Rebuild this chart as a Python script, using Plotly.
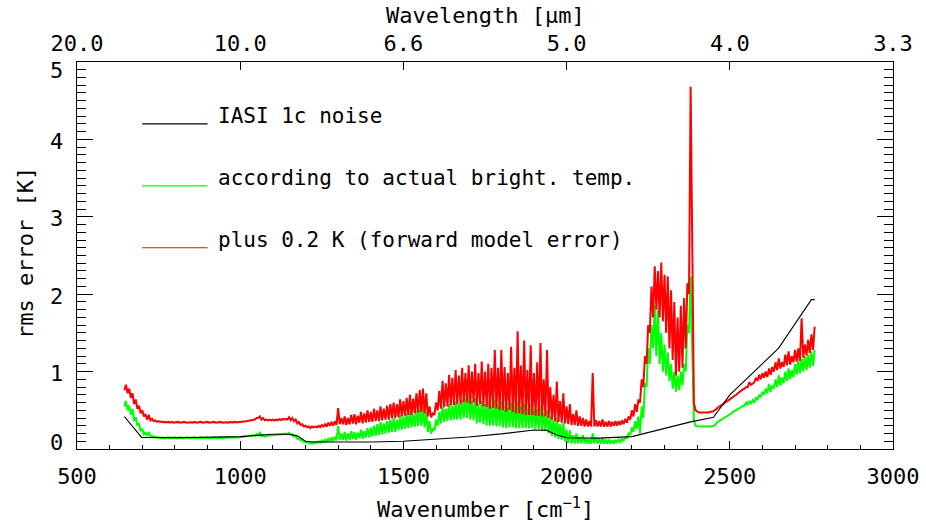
import plotly.graph_objects as go

# ---------------- data ----------------
wn_start, wn_stop, wn_step = 645, 2760, 5
wavenumber = list(range(wn_start, wn_stop + 1, wn_step))

green_values = [
    0.55, 0.62, 0.50, 0.56, 0.44, 0.52, 0.36, 0.41, 0.30, 0.33, 0.23, 0.26, 0.19, 0.21, 0.17, 0.22, 0.16, 0.17, 0.15, 0.16,
    0.145, 0.15, 0.14, 0.15, 0.14, 0.145, 0.14, 0.15, 0.14, 0.145, 0.14, 0.15, 0.14, 0.145, 0.14, 0.15, 0.14, 0.145, 0.14, 0.15,
    0.14, 0.145, 0.14, 0.15, 0.14, 0.145, 0.14, 0.15, 0.14, 0.145, 0.14, 0.15, 0.14, 0.145, 0.14, 0.15, 0.14, 0.145, 0.14, 0.15,
    0.14, 0.145, 0.14, 0.15, 0.145, 0.15, 0.145, 0.15, 0.145, 0.15, 0.15, 0.155, 0.155, 0.16, 0.16, 0.165, 0.165, 0.17, 0.17, 0.18,
    0.17, 0.19, 0.18, 0.21, 0.17, 0.18, 0.16, 0.17, 0.17, 0.175, 0.175, 0.18, 0.18, 0.185, 0.185, 0.19, 0.19, 0.195, 0.19, 0.20,
    0.19, 0.21, 0.18, 0.19, 0.16, 0.17, 0.13, 0.14, 0.11, 0.12, 0.09, 0.10, 0.08, 0.09, 0.07, 0.09, 0.07, 0.09, 0.08, 0.10,
    0.08, 0.11, 0.09, 0.12, 0.09, 0.14, 0.10, 0.15, 0.10, 0.16, 0.11, 0.30, 0.12, 0.20, 0.12, 0.22, 0.11, 0.20, 0.12, 0.23,
    0.13, 0.22, 0.12, 0.21, 0.14, 0.25, 0.13, 0.23, 0.15, 0.27, 0.15, 0.28, 0.16, 0.30, 0.17, 0.32, 0.18, 0.35, 0.19, 0.33,
    0.20, 0.36, 0.21, 0.38, 0.22, 0.40, 0.22, 0.38, 0.24, 0.44, 0.25, 0.42, 0.26, 0.46, 0.27, 0.48, 0.28, 0.45, 0.29, 0.50,
    0.30, 0.52, 0.30, 0.54, 0.28, 0.48, 0.22, 0.36, 0.20, 0.26, 0.24, 0.38, 0.30, 0.48, 0.33, 0.55, 0.35, 0.52, 0.36, 0.58,
    0.37, 0.56, 0.38, 0.62, 0.38, 0.58, 0.38, 0.64, 0.40, 0.66, 0.40, 0.72, 0.38, 0.62, 0.37, 0.66, 0.33, 0.58, 0.34, 0.62,
    0.32, 0.58, 0.30, 0.62, 0.30, 0.56, 0.30, 0.64, 0.29, 0.58, 0.29, 0.62, 0.28, 0.56, 0.27, 0.54, 0.28, 0.60, 0.28, 0.55,
    0.27, 0.62, 0.27, 0.55, 0.27, 0.60, 0.27, 0.52, 0.27, 0.58, 0.27, 0.50, 0.26, 0.52, 0.26, 0.56, 0.24, 0.46, 0.23, 0.50,
    0.20, 0.42, 0.17, 0.38, 0.15, 0.40, 0.13, 0.32, 0.12, 0.34, 0.10, 0.25, 0.08, 0.24, 0.07, 0.18, 0.07, 0.20, 0.07, 0.16,
    0.07, 0.18, 0.07, 0.14, 0.07, 0.13, 0.07, 0.20, 0.07, 0.15, 0.07, 0.13, 0.07, 0.14, 0.07, 0.12, 0.07, 0.12, 0.07, 0.11,
    0.07, 0.12, 0.08, 0.12, 0.09, 0.13, 0.11, 0.15, 0.14, 0.20, 0.18, 0.28, 0.22, 0.36, 0.26, 0.42, 0.20, 0.55, 0.40, 0.85,
    0.80, 1.30, 1.10, 1.60, 1.30, 1.86, 1.20, 1.80, 1.10, 1.50, 1.00, 1.35, 0.95, 1.25, 0.88, 1.10, 0.78, 1.00, 0.74, 0.95,
    0.76, 1.00, 0.82, 1.10, 1.00, 1.60, 1.50, 2.23, 1.20, 0.37, 0.30, 0.29, 0.29, 0.29, 0.29, 0.29, 0.29, 0.29, 0.29, 0.29,
    0.29, 0.30, 0.31, 0.34, 0.36, 0.37, 0.38, 0.40, 0.41, 0.42, 0.43, 0.45, 0.46, 0.48, 0.49, 0.50, 0.51, 0.53, 0.54, 0.56,
    0.56, 0.60, 0.57, 0.62, 0.59, 0.63, 0.60, 0.66, 0.64, 0.70, 0.67, 0.74, 0.70, 0.78, 0.72, 0.84, 0.74, 0.82, 0.78, 0.90,
    0.80, 0.95, 0.82, 0.92, 0.85, 1.00, 0.88, 1.04, 0.90, 1.02, 0.93, 1.10, 0.96, 1.14, 0.98, 1.17, 1.00, 1.20, 1.02, 1.22,
    1.05, 1.26, 1.07, 1.28,
]

red_values = [
    0.76, 0.83, 0.72, 0.78, 0.66, 0.72, 0.58, 0.64, 0.52, 0.56, 0.46, 0.50, 0.42, 0.45, 0.38, 0.44, 0.37, 0.39, 0.36, 0.37,
    0.35, 0.36, 0.35, 0.355, 0.345, 0.35, 0.345, 0.35, 0.34, 0.35, 0.34, 0.345, 0.34, 0.35, 0.34, 0.345, 0.34, 0.35, 0.34, 0.345,
    0.34, 0.345, 0.34, 0.35, 0.34, 0.345, 0.34, 0.35, 0.34, 0.345, 0.34, 0.35, 0.34, 0.345, 0.34, 0.35, 0.34, 0.345, 0.34, 0.35,
    0.34, 0.345, 0.34, 0.345, 0.34, 0.35, 0.34, 0.35, 0.345, 0.35, 0.345, 0.35, 0.35, 0.355, 0.355, 0.36, 0.36, 0.37, 0.37, 0.38,
    0.38, 0.40, 0.40, 0.42, 0.38, 0.40, 0.37, 0.38, 0.37, 0.38, 0.37, 0.38, 0.37, 0.38, 0.37, 0.385, 0.375, 0.39, 0.38, 0.39,
    0.38, 0.41, 0.37, 0.40, 0.36, 0.38, 0.33, 0.35, 0.31, 0.32, 0.29, 0.30, 0.28, 0.29, 0.27, 0.29, 0.28, 0.29, 0.28, 0.30,
    0.28, 0.31, 0.29, 0.32, 0.29, 0.34, 0.30, 0.35, 0.30, 0.36, 0.31, 0.53, 0.32, 0.40, 0.32, 0.42, 0.31, 0.40, 0.32, 0.44,
    0.33, 0.45, 0.32, 0.43, 0.34, 0.48, 0.33, 0.46, 0.34, 0.50, 0.35, 0.48, 0.35, 0.52, 0.36, 0.50, 0.36, 0.55, 0.37, 0.52,
    0.38, 0.56, 0.38, 0.58, 0.40, 0.60, 0.40, 0.58, 0.41, 0.64, 0.42, 0.62, 0.43, 0.66, 0.44, 0.70, 0.44, 0.65, 0.46, 0.72,
    0.47, 0.76, 0.48, 0.78, 0.46, 0.72, 0.42, 0.55, 0.41, 0.46, 0.44, 0.60, 0.50, 0.75, 0.52, 0.88, 0.54, 0.85, 0.55, 0.96,
    0.56, 0.92, 0.57, 1.02, 0.58, 0.95, 0.58, 1.05, 0.60, 0.98, 0.60, 1.08, 0.58, 1.00, 0.60, 1.10, 0.56, 0.98, 0.58, 1.13,
    0.55, 1.00, 0.54, 1.10, 0.52, 1.05, 0.53, 1.28, 0.52, 1.05, 0.50, 1.28, 0.50, 1.06, 0.48, 0.98, 0.50, 1.32, 0.48, 1.05,
    0.46, 1.52, 0.46, 1.08, 0.45, 1.40, 0.44, 1.02, 0.44, 1.34, 0.44, 0.98, 0.43, 1.12, 0.43, 1.37, 0.42, 0.90, 0.42, 1.28,
    0.40, 0.80, 0.38, 0.70, 0.36, 0.87, 0.35, 0.62, 0.34, 0.72, 0.33, 0.55, 0.32, 0.58, 0.31, 0.45, 0.31, 0.50, 0.30, 0.42,
    0.30, 0.40, 0.29, 0.38, 0.29, 0.36, 0.29, 0.98, 0.29, 0.37, 0.29, 0.36, 0.29, 0.38, 0.29, 0.35, 0.29, 0.36, 0.29, 0.35,
    0.30, 0.36, 0.30, 0.36, 0.31, 0.37, 0.32, 0.39, 0.34, 0.42, 0.38, 0.50, 0.42, 0.58, 0.48, 0.64, 0.60, 0.90, 0.80, 1.20,
    1.10, 1.60, 1.50, 2.10, 1.70, 2.36, 1.80, 2.30, 1.70, 2.41, 1.65, 2.25, 1.50, 2.23, 1.30, 2.05, 1.15, 1.90, 0.95, 1.70,
    1.00, 1.85, 1.05, 1.95, 1.30, 2.14, 2.00, 4.68, 2.74, 0.59, 0.50, 0.48, 0.47, 0.47, 0.47, 0.47, 0.47, 0.47, 0.47, 0.48,
    0.48, 0.49, 0.50, 0.52, 0.54, 0.55, 0.57, 0.58, 0.60, 0.61, 0.63, 0.64, 0.66, 0.67, 0.69, 0.70, 0.72, 0.74, 0.75, 0.77,
    0.78, 0.80, 0.80, 0.86, 0.83, 0.85, 0.86, 0.92, 0.88, 0.96, 0.90, 0.98, 0.92, 1.00, 0.93, 1.04, 0.96, 1.06, 1.00, 1.12,
    1.02, 1.17, 1.04, 1.12, 1.06, 1.22, 1.08, 1.26, 1.09, 1.20, 1.12, 1.28, 1.13, 1.30, 1.14, 1.69, 1.18, 1.35, 1.21, 1.41,
    1.24, 1.48, 1.28, 1.58,
]

noise_wavenumber = [645, 698, 800, 1000, 1100, 1150, 1175, 1200, 1220, 1400, 1500, 1600, 1700, 1800,
                    1900, 1940, 1970, 2000, 2100, 2200, 2280, 2380, 2450, 2500, 2649, 2750, 2760]
noise_values = [0.42, 0.15, 0.145, 0.16, 0.19, 0.19, 0.17, 0.10, 0.09, 0.09, 0.10, 0.125, 0.155, 0.195,
                0.245, 0.24, 0.18, 0.145, 0.14, 0.16, 0.245, 0.35, 0.41, 0.70, 1.30, 1.93, 1.93]

x_tick_values = [500, 1000, 1500, 2000, 2500, 3000]
x_tick_labels = ["500", "1000", "1500", "2000", "2500", "3000"]
top_tick_labels = ["20.0", "10.0", "6.6", "5.0", "4.0", "3.3"]
y_tick_values = [0, 1, 2, 3, 4, 5]
y_tick_labels = ["0", "1", "2", "3", "4", "5"]

series_names = ["IASI 1c noise", "according to actual bright. temp.", "plus 0.2 K (forward model error)"]
series_colors = ["#000000", "#00ff00", "#ff0000"]

n = min(len(wavenumber), len(green_values), len(red_values))

FONT = "DejaVu Sans Mono"

fig = go.Figure()
fig.add_trace(go.Scatter(x=noise_wavenumber, y=noise_values, mode="lines", xaxis="x2",
                         line=dict(color=series_colors[0], width=1.1), name=series_names[0],
                         showlegend=False, hoverinfo="skip"))
fig.add_trace(go.Scatter(x=wavenumber[:n], y=green_values[:n], mode="lines",
                         line=dict(color=series_colors[1], width=2), name=series_names[1],
                         showlegend=False))
fig.add_trace(go.Scatter(x=wavenumber[:n], y=red_values[:n], mode="lines",
                         line=dict(color=series_colors[2], width=2), name=series_names[2],
                         showlegend=False))

# legend drawn inside the plot (data coordinates)
legend_y = [4.2, 3.4, 2.6]
for name, col, yy in zip(series_names, series_colors, legend_y):
    fig.add_shape(type="line", xref="x", yref="y", x0=700, x1=900, y0=yy, y1=yy,
                  line=dict(color=col, width=1.2))
    fig.add_annotation(x=925, y=yy + 0.1, xref="x", yref="y", text=name, showarrow=False,
                       xanchor="left", yanchor="middle", font=dict(family=FONT, size=21, color="black"))

# y tick labels (IDL style: end labels kept inside the axis span)
y_label_shift = [7, -2, -2, -2, -2, -8]
for v, lab, sh in zip(y_tick_values, y_tick_labels, y_label_shift):
    fig.add_annotation(x=-0.0147, y=v, xref="paper", yref="y", text=lab, showarrow=False,
                       xanchor="right", yanchor="middle", yshift=sh,
                       font=dict(family=FONT, size=22, color="black"))

# axis titles
fig.add_annotation(x=0.5, y=-0.152, xref="paper", yref="paper", text="Wavenumber [cm<sup>−1</sup>]",
                   showarrow=False, xanchor="center", yanchor="middle",
                   font=dict(family=FONT, size=22, color="black"))
fig.add_annotation(x=0.5, y=1.121, xref="paper", yref="paper", text="Wavelength [μm]",
                   showarrow=False, xanchor="center", yanchor="middle",
                   font=dict(family=FONT, size=22, color="black"))
fig.add_annotation(x=-0.064, y=0.506, xref="paper", yref="paper", text="rms error [K]",
                   showarrow=False, xanchor="center", yanchor="middle", textangle=-90,
                   font=dict(family=FONT, size=22, color="black"))

fig.update_layout(
    width=926, height=525,
    margin=dict(l=77, r=33, t=62, b=76, autoexpand=False),
    paper_bgcolor="white", plot_bgcolor="white",
    showlegend=False,
    font=dict(family=FONT, size=22, color="black"),
    xaxis=dict(range=[500, 3000], showgrid=False, zeroline=False, showline=True, automargin=False,
               linecolor="black", linewidth=1, mirror=False,
               ticks="inside", ticklen=8, tickwidth=1, tickcolor="black",
               tickvals=x_tick_values, ticktext=x_tick_labels, ticklabelstandoff=8,
               minor=dict(dtick=100, ticks="inside", ticklen=4, tickwidth=1, tickcolor="black", showgrid=False)),
    xaxis2=dict(range=[500, 3000], overlaying="x", side="top", showgrid=False, zeroline=False,
                showline=True, linecolor="black", linewidth=1, automargin=False,
                ticks="inside", ticklen=8, tickwidth=1, tickcolor="black",
                tickvals=x_tick_values, ticktext=top_tick_labels, ticklabelstandoff=1),
    yaxis=dict(range=[0, 5], showgrid=False, zeroline=False, showline=True, automargin=False,
               linecolor="black", linewidth=1, mirror="ticks", showticklabels=False,
               ticks="inside", ticklen=16, tickwidth=1, tickcolor="black",
               tickvals=y_tick_values,
               minor=dict(dtick=0.1, ticks="inside", ticklen=9, tickwidth=1, tickcolor="black", showgrid=False)),
)

fig.write_html("out.html", config={"displayModeBar": False},
               post_script="document.body.style.margin='0';")
